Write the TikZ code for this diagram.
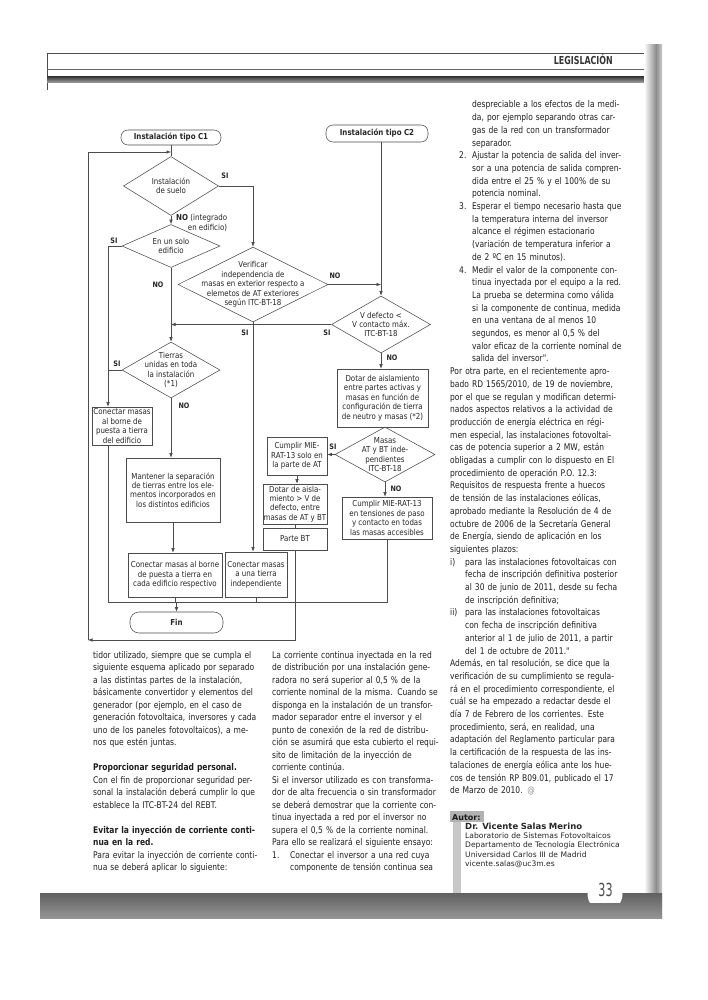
\documentclass[tikz,border=0pt]{standalone}
\usepackage{fontspec}
\setmainfont{DejaVu Sans}[FakeStretch=0.86]
\newfontfamily\bodyfam{DejaVu Sans}[FakeStretch=0.82]
\newfontfamily\authfont{DejaVu Sans}
\newfontfamily\condfont{DejaVu Sans}[FakeStretch=0.72]
\newfontfamily\numfont{DejaVu Sans}[FakeStretch=0.62]
\usetikzlibrary{arrows.meta, calc}
\usetikzlibrary{shapes.geometric}
\setlength{\parindent}{0pt}

\newcommand{\flowfont}{\fontsize{8.2}{9.4}\selectfont}
\newcommand{\bodyfont}{\bodyfam\fontsize{9.2}{12.5}\selectfont}
\newcommand{\jl}[1]{\makebox[\hsize][s]{#1}}
\newcommand{\il}[3]{\makebox[#1][l]{#2}\makebox[\dimexpr\hsize-#1\relax][s]{#3}}

\tikzset{
  flow/.style={draw=black!70, line width=0.55pt},
  arr/.style={flow, -{Latex[length=4.5pt,width=3.5pt]}},
  box/.style={draw=black!70, line width=0.55pt, inner sep=0.5pt, align=center, font=\flowfont, text=black!85},
  term/.style={box, rounded corners=7pt, font=\flowfont\bfseries},
  dia/.style={draw=black!70, line width=0.55pt, shape=diamond, inner sep=0pt},
  dtext/.style={align=center, font=\flowfont, text=black!85, inner sep=0pt},
  lab/.style={font={\fontsize{7.5}{8}\selectfont\bfseries}, text=black!85, inner sep=0pt},
  col/.style={anchor=base west, inner sep=0pt, text width=#1, align=left, font=\bodyfont, text=black!88},
}

\begin{document}
\begin{tikzpicture}[x=1pt, y=-1pt]
  \useasboundingbox (0,0) rectangle (707,1000);
  \fill[white] (0,0) rectangle (707,1000);

  % testata
  \draw[black!70, line width=0.6pt] (47,90) -- (47,53) -- (648,53);
  \node[font={\condfont\bfseries\fontsize{11}{11}\selectfont}, anchor=base east, text=black!80, inner sep=0pt] (head) at (613,65) {LEGISLACIÓN};
  \draw[black!60, line width=0.5pt] (47,69) -- (648,69);
  \shade[top color=black!75, bottom color=black!35] (47,77) rectangle (648,83);
  \shade[left color=white, right color=black!45] (644,45) rectangle (656,918);
  \shade[left color=black!45, right color=black!20] (656,45) rectangle (662,918);

  % diagramma di flusso
  \node[term, minimum width=100pt, minimum height=15pt] (c1) at (171,137.5) {Instalación tipo C1};
  \node[term, minimum width=102pt, minimum height=17pt] (c2) at (377,133.5) {Instalación tipo C2};

  \node[dia, minimum width=95pt, minimum height=59pt] (d1) at (171,186) {};
  \node[dtext] at (d1) {Instalación\\de suelo};
  \node[dia, minimum width=98pt, minimum height=43pt] (d2) at (171,246) {};
  \node[dtext] at (d2) {En un solo\\edificio};
  \node[dia, minimum width=150pt, minimum height=75pt] (d3) at (253,284.5) {};
  \node[dtext] at (d3) {Verificar\\independencia de\\masas en exterior respecto a\\elemetos de AT exteriores\\según ITC-BT-18};
  \node[dia, minimum width=99pt, minimum height=57pt] (d4) at (381,324.5) {};
  \node[dtext] at (d4) {V defecto <\\V contacto máx.\\ITC-BT-18};
  \node[dia, minimum width=98pt, minimum height=56pt] (d5) at (171,370) {};
  \node[dtext] at (d5) {Tierras\\unidas en toda\\la instalación\\(*1)};
  \node[dia, minimum width=100pt, minimum height=55pt] (d6) at (385,454.5) {};
  \node[dtext] at (d6) {Masas\\AT y BT inde-\\pendientes\\ITC-BT-18};

  \node[box, minimum width=60pt, minimum height=38pt] (c0) at (122,426) {Conectar masas\\al borne de\\puesta a tierra\\del edificio};
  \node[box, minimum width=94pt, minimum height=64pt] (mant) at (173,490) {Mantener la separación\\de tierras entre los ele-\\mentos incorporados en\\los distintos edificios};
  \node[box, minimum width=94pt, minimum height=44pt] (cb1) at (175,575) {Conectar masas al borne\\de puesta a tierra en\\cada edificio respectivo};
  \node[box, minimum width=62pt, minimum height=45pt] (cb2) at (256,574.5) {Conectar masas\\a una tierra\\independiente};
  \node[term, rounded corners=9pt, minimum width=93pt, minimum height=21pt] (fin) at (176.5,622.5) {Fin};
  \node[box, minimum width=91pt, minimum height=58pt] (ais) at (382.5,398) {Dotar de aislamiento\\entre partes activas y\\masas en función de\\configuración de tierra\\de neutro y masas (*2)};
  \node[box, minimum width=60pt, minimum height=38pt] (rat) at (297,456) {Cumplir MIE-\\RAT-13 solo en\\la parte de AT};
  \node[box, minimum width=64pt, minimum height=40pt] (dot2) at (295,504) {Dotar de aisla-\\miento > V de\\defecto, entre\\masas de AT y BT};
  \node[box, minimum width=64pt, minimum height=22pt] (pbt) at (295,539) {Parte BT};
  \node[box, minimum width=90pt, minimum height=42pt] (c3) at (387,518) {Cumplir MIE-RAT-13\\en tensiones de paso\\y contacto en todas\\las masas accesibles};

  \coordinate (loopt) at (171,152);
  \coordinate (loopb) at (88,640);
  \coordinate (lx) at (108,400);
  \coordinate (bus) at (108,602);

  \draw[flow] (c1.south) -- (d1.north);
  \draw[arr] (pbt.south) |- (loopb);
  \draw[arr] (loopb) |- (loopt);
  \draw[arr] (d1.east) -| (d3.north);
  \draw[arr] (d1.south) -- (d2.north);
  \draw[arr] (d2.south) -- (d5.north);
  \draw[arr] (d2.west) -| (lx |- c0.north);
  \draw[flow] (d5.west) -- (d5.west -| lx);
  \draw[arr] (d3.east) -- (d3.east -| d4.north);
  \draw[arr] (c2.south -| d4.north) -- (d4.north);
  \draw[arr] (d4.west) -- (d4.west -| d5.north);
  \draw[arr] (d3.south) -- (d3.south |- cb2.north);
  \draw[arr] (d4.south) -- (d4.south |- ais.north);
  \draw[arr] (d6.west) -- (d6.west -| rat.east);
  \draw[arr] (rat.south) -- (rat.south |- dot2.north);
  \draw[flow] (dot2.south) -- (dot2.south |- pbt.north);
  \draw[arr] (d6.south) -- (d6.south |- c3.north);
  \draw[arr] (d5.south) -- (d5.south |- mant.north);
  \draw[arr] (mant.south) -- (mant.south |- cb1.north);
  \draw[flow] (lx |- c0.south) -- (bus) -- (c3.south |- bus) -- (c3.south);
  \draw[flow] (cb1.south) -- (cb1.south |- bus);
  \draw[flow] (cb2.south) -- (cb2.south |- bus);
  \draw[arr] (fin.north |- bus) -- (fin.north);

  % etichette SI / NO
  \node[lab] at (225,176) {SI};
  \node[dtext, align=right, anchor=north west] at (176,214.5) {\textbf{NO} (integrado\\en edificio)};
  \node[lab] at (114,241) {SI};
  \node[lab] at (158,285) {NO};
  \node[lab] at (335,276) {NO};
  \node[lab] at (245,333) {SI};
  \node[lab] at (327,333) {SI};
  \node[lab] at (117,364) {SI};
  \node[lab] at (392,358) {NO};
  \node[lab] at (184,405.5) {NO};
  \node[lab] at (333,447) {SI};
  \node[lab] at (396,489) {NO};

  % colonne di testo
  \node[col=172pt] (colA) at (93,658) {%
\jl{tidor utilizado, siempre que se cumpla el}\\
\jl{siguiente esquema aplicado por separado}\\
\jl{a las distintas partes de la instalación,}\\
\jl{básicamente convertidor y elementos del}\\
\jl{generador (por ejemplo, en el caso de}\\
\jl{generación fotovoltaica, inversores y cada}\\
\jl{uno de los paneles fotovoltaicos), a me-}\\
nos que estén juntas.\\[12.5pt]
{\bfseries Proporcionar seguridad personal.}\\
\jl{Con el fin de proporcionar seguridad per-}\\
\jl{sonal la instalación deberá cumplir lo que}\\
establece la ITC-BT-24 del REBT.\\[12.5pt]
\jl{\bfseries Evitar la inyección de corriente conti-}\\
{\bfseries nua en la red.}\\
\jl{Para evitar la inyección de corriente conti-}\\
nua se deberá aplicar lo siguiente:};

  \node[col=170pt] (colB) at (272,658) {%
\jl{La corriente continua inyectada en la red}\\
\jl{de distribución por una instalación gene-}\\
\jl{radora no será superior al 0,5 \% de la}\\
\jl{corriente nominal de la misma. Cuando se}\\
\jl{disponga en la instalación de un transfor-}\\
\jl{mador separador entre el inversor y el}\\
\jl{punto de conexión de la red de distribu-}\\
\jl{ción se asumirá que esta cubierto el requi-}\\
\jl{sito de limitación de la inyección de}\\
corriente continúa.\\
\jl{Si el inversor utilizado es con transforma-}\\
\jl{dor de alta frecuencia o sin transformador}\\
\jl{se deberá demostrar que la corriente con-}\\
\jl{tinua inyectada a red por el inversor no}\\
\jl{supera el 0,5 \% de la corriente nominal.}\\
Para ello se realizará el siguiente ensayo:\\
\il{18pt}{1.}{Conectar el inversor a una red cuya}\\
\il{18pt}{}{componente de tensión continua sea}};

  \node[col=166pt, font={\bodyfam\fontsize{9.2}{12.7}\selectfont}] (colC) at (450,108) {%
\il{22pt}{}{despreciable a los efectos de la medi-}\\
\il{22pt}{}{da, por ejemplo separando otras car-}\\
\il{22pt}{}{gas de la red con un transformador}\\
\hspace*{22pt}separador.\\
\il{22pt}{\hspace*{9pt}2.}{Ajustar la potencia de salida del inver-}\\
\il{22pt}{}{sor a una potencia de salida compren-}\\
\il{22pt}{}{dida entre el 25 \% y el 100\% de su}\\
\hspace*{22pt}potencia nominal.\\
\il{22pt}{\hspace*{9pt}3.}{Esperar el tiempo necesario hasta que}\\
\il{22pt}{}{la temperatura interna del inversor}\\
\il{22pt}{}{alcance el régimen estacionario}\\
\il{22pt}{}{(variación de temperatura inferior a}\\
\hspace*{22pt}de 2 ºC en 15 minutos).\\
\il{22pt}{\hspace*{9pt}4.}{Medir el valor de la componente con-}\\
\il{22pt}{}{tinua inyectada por el equipo a la red.}\\
\il{22pt}{}{La prueba se determina como válida}\\
\il{22pt}{}{si la componente de continua, medida}\\
\il{22pt}{}{en una ventana de al menos 10}\\
\il{22pt}{}{segundos, es menor al 0,5 \% del}\\
\il{22pt}{}{valor eficaz de la corriente nominal de}\\
\hspace*{22pt}salida del inversor".\\
\jl{Por otra parte, en el recientemente apro-}\\
\jl{bado RD 1565/2010, de 19 de noviembre,}\\
\jl{por el que se regulan y modifican determi-}\\
\jl{nados aspectos relativos a la actividad de}\\
\jl{producción de energía eléctrica en régi-}\\
\jl{men especial, las instalaciones fotovoltai-}\\
\jl{cas de potencia superior a 2 MW, están}\\
\jl{obligadas a cumplir con lo dispuesto en El}\\
\jl{procedimiento de operación P.O. 12.3:}\\
\jl{Requisitos de respuesta frente a huecos}\\
\jl{de tensión de las instalaciones eólicas,}\\
\jl{aprobado mediante la Resolución de 4 de}\\
\jl{octubre de 2006 de la Secretaría General}\\
\jl{de Energía, siendo de aplicación en los}\\
siguientes plazos:\\
\il{15pt}{i)}{para las instalaciones fotovoltaicas con}\\
\il{15pt}{}{fecha de inscripción definitiva posterior}\\
\il{15pt}{}{al 30 de junio de 2011, desde su fecha}\\
\hspace*{15pt}de inscripción definitiva;\\
\il{15pt}{ii)}{para las instalaciones fotovoltaicas}\\
\il{15pt}{}{con fecha de inscripción definitiva}\\
\il{15pt}{}{anterior al 1 de julio de 2011, a partir}\\
\hspace*{15pt}del 1 de octubre de 2011."\\
\jl{Además, en tal resolución, se dice que la}\\
\jl{verificación de su cumplimiento se regula-}\\
\jl{rá en el procedimiento correspondiente, el}\\
\jl{cuál se ha empezado a redactar desde el}\\
\jl{día 7 de Febrero de los corrientes. Este}\\
\jl{procedimiento, será, en realidad, una}\\
\jl{adaptación del Reglamento particular para}\\
\jl{la certificación de la respuesta de las ins-}\\
\jl{talaciones de energía eólica ante los hue-}\\
\jl{cos de tensión RP B09.01, publicado el 17}\\
de Marzo de 2010. {\color{black!45}@}};

  % autore e piede di pagina
  \fill[black!22] (453,822) rectangle (461,893);
  \fill[black!30] (450,811) rectangle (484,822);
  \node[anchor=base west, inner sep=0pt, font={\authfont\bfseries\fontsize{8}{8}\selectfont}, text=black!90] (autor) at (452,820) {Autor:};
  \node[anchor=base west, inner sep=0pt, text width=175pt, align=left, font={\authfont\fontsize{7.6}{9.2}\selectfont}, text=black!85] (firma) at (465,829.5) {{\bfseries\fontsize{8.5}{9.2}\selectfont Dr. Vicente Salas Merino}\\Laboratorio de Sistemas Fotovoltaicos\\Departamento de Tecnología Electrónica\\Universidad Carlos III de Madrid\\vicente.salas@uc3m.es};

  \shade[top color=black!62, bottom color=black!42] (40,893) rectangle (662,918);
  \begin{scope}
    \clip (580,870) rectangle (630,902);
    \fill[white] (605,894) circle (17.5);
  \end{scope}
  \node[font={\numfont\fontsize{18}{18}\selectfont}, text=black!70, inner sep=0pt] (pag) at (605.5,890) {33};
\end{tikzpicture}
\end{document}
